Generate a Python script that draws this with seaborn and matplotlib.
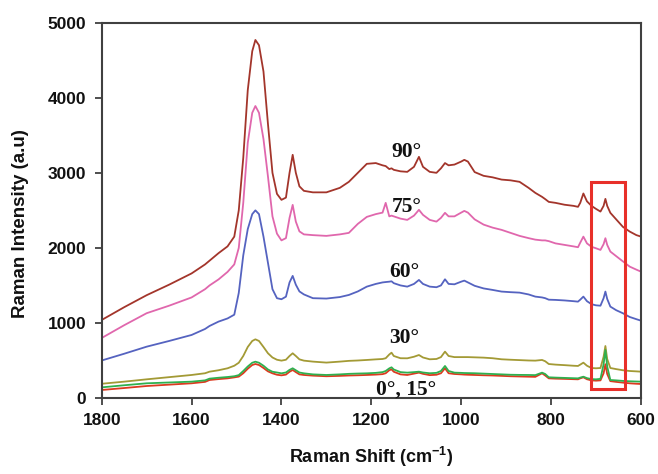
import matplotlib
matplotlib.use("Agg")
import matplotlib.pyplot as plt
from matplotlib.patches import Rectangle
import seaborn as sns
import pandas as pd

# ---- data ----
X_SHIFT = [1800, 1750, 1700, 1650, 1600, 1570, 1560, 1540, 1520, 1505, 1495, 1485, 1475,
           1465, 1458, 1450, 1440, 1430, 1420, 1410, 1400, 1390, 1382, 1375, 1368, 1360,
           1350, 1330, 1300, 1270, 1250, 1230, 1210, 1190, 1175, 1168, 1160, 1155, 1150,
           1135, 1120, 1105, 1094, 1085, 1070, 1055, 1045, 1036, 1028, 1015, 1000, 993,
           985, 970, 950, 930, 910, 890, 870, 850, 835, 820, 813, 805, 790, 770, 750, 740,
           735, 728, 720, 710, 700, 690, 683, 679, 675, 668, 655, 640, 625, 610, 600]

Y_90 = [1040, 1210, 1370, 1510, 1660, 1780, 1830, 1930, 2020, 2150, 2500, 3200, 4100,
        4620, 4770, 4700, 4350, 3650, 3000, 2720, 2640, 2670, 3000, 3240, 3000, 2820,
        2760, 2740, 2740, 2800, 2880, 3000, 3120, 3130, 3100, 3090, 3050, 3060, 3040,
        3020, 3013, 3080, 3213, 3080, 3013, 3000, 3060, 3130, 3100, 3110, 3150, 3173,
        3150, 3010, 2960, 2940, 2910, 2900, 2880, 2800, 2733, 2680, 2650, 2613, 2600, 2575, 2560, 2547,
        2600, 2725, 2620, 2560, 2520, 2484, 2560, 2653, 2560, 2467, 2380, 2280, 2218, 2170, 2151]

Y_75 = [800, 970, 1130, 1230, 1340, 1450, 1500, 1580, 1680, 1780, 2000, 2600, 3400,
        3800, 3890, 3800, 3450, 2950, 2420, 2190, 2100, 2130, 2400, 2573, 2350, 2220,
        2180, 2170, 2160, 2180, 2200, 2320, 2413, 2450, 2470, 2600, 2420, 2430, 2420,
        2390, 2373, 2430, 2507, 2440, 2373, 2350, 2400, 2467, 2420, 2420, 2470, 2493,
        2470, 2380, 2310, 2270, 2240, 2200, 2160, 2130, 2110, 2100, 2100, 2090, 2060, 2040, 2020, 2009,
        2070, 2150, 2060, 2015, 1995, 1973, 2050, 2129, 2040, 1951, 1890, 1820, 1751, 1710, 1684]

Y_60 = [500, 590, 684, 760, 840, 920, 960, 1018, 1060, 1110, 1400, 1900, 2250,
        2450, 2500, 2450, 2150, 1800, 1450, 1330, 1316, 1350, 1540, 1627, 1510, 1420,
        1380, 1330, 1325, 1345, 1373, 1420, 1484, 1520, 1540, 1545, 1550, 1555, 1530,
        1500, 1484, 1520, 1573, 1520, 1484, 1476, 1500, 1582, 1520, 1515, 1550, 1564,
        1540, 1495, 1460, 1440, 1418, 1410, 1404, 1380, 1351, 1340, 1330, 1310, 1307, 1300, 1290, 1284,
        1310, 1351, 1290, 1250, 1235, 1230, 1330, 1418, 1320, 1218, 1170, 1129, 1080, 1050, 1031]

Y_30 = [190, 218, 249, 278, 307, 330, 351, 370, 396, 430, 470, 560, 680,
        760, 782, 760, 680, 596, 540, 510, 498, 510, 560, 596, 560, 515,
        498, 485, 472, 485, 495, 500, 507, 515, 520, 530, 580, 604, 560,
        530, 529, 550, 573, 540, 516, 520, 545, 618, 560, 545, 545, 545,
        545, 542, 538, 530, 516, 510, 505, 500, 498, 507, 490, 453, 445, 438, 430, 427,
        445, 471, 430, 400, 396, 400, 550, 693, 520, 400, 385, 370, 360, 355, 351]

Y_15 = [142, 170, 196, 207, 218, 235, 258, 270, 280, 290, 305, 360, 420,
        470, 484, 470, 430, 380, 350, 340, 329, 340, 375, 396, 370, 340,
        329, 315, 307, 315, 322, 326, 329, 335, 345, 360, 395, 409, 380,
        345, 338, 345, 351, 340, 330, 335, 360, 427, 360, 338, 335, 333,
        332, 330, 325, 320, 315, 310, 308, 307, 305, 338, 320, 276, 272, 268, 264, 262,
        272, 284, 265, 252, 249, 255, 450, 640, 420, 240, 235, 228, 223, 220, 218]

Y_0 = [107, 133, 160, 178, 196, 215, 240, 252, 262, 275, 285, 330, 390,
       440, 453, 440, 400, 355, 329, 310, 302, 312, 350, 373, 345, 315,
       307, 298, 290, 295, 300, 303, 307, 312, 318, 330, 370, 382, 350,
       315, 307, 325, 338, 322, 305, 310, 330, 396, 330, 320, 315, 312,
       310, 307, 303, 300, 295, 290, 287, 284, 282, 329, 300, 262, 258, 255, 251, 249,
       262, 276, 250, 235, 231, 235, 330, 450, 320, 225, 215, 205, 196, 190, 187]

ANGLES = ["90°", "75°", "60°", "30°", "0°", "15°"]
SERIES = [Y_90, Y_75, Y_60, Y_30, Y_0, Y_15]
COLORS = ["#a3352b", "#e067ad", "#5563c0", "#a39a35", "#dc3a20", "#2fb04f"]

LABELS = ["90°", "75°", "60°", "30°", "0°, 15°"]
LABEL_X = [1122, 1122, 1126, 1126, 1122]
LABEL_Y = [3273, 2547, 1684, 796, 107]

BOX_X = [711, 635]
BOX_Y = [120, 2880]

# ---- build table ----
frames = []
for ang, ys in zip(ANGLES, SERIES):
    frames.append(pd.DataFrame({"shift": X_SHIFT, "intensity": ys, "angle": ang}))
df = pd.concat(frames, ignore_index=True)

sns.set_theme(style="white")
plt.rcParams["font.family"] = ["Liberation Sans", "DejaVu Sans"]
plt.rcParams["mathtext.fontset"] = "custom"
plt.rcParams["mathtext.bf"] = "Liberation Sans:bold"
plt.rcParams["mathtext.rm"] = "Liberation Sans:bold"
plt.rcParams["mathtext.default"] = "bf"

fig = plt.figure(figsize=(6.58, 4.74), dpi=100)
ax = fig.add_axes([0.1546, 0.1603, 0.8194, 0.7918])

sns.lineplot(data=df, x="shift", y="intensity", hue="angle", hue_order=ANGLES,
             palette=dict(zip(ANGLES, COLORS)), estimator=None, legend=False,
             linewidth=1.3, ax=ax)

ax.set_xlim(1800, 600)
ax.set_ylim(0, 5000)
ax.set_xticks([1800, 1600, 1400, 1200, 1000, 800, 600])
ax.set_yticks([0, 1000, 2000, 3000, 4000, 5000])

for lab, lx, ly in zip(LABELS, LABEL_X, LABEL_Y):
    ax.text(lx, ly, lab, ha="center", va="center", fontsize=15.5,
            fontweight="bold", family=["Liberation Serif", "DejaVu Serif"], color="#111111")

ax.add_patch(Rectangle((BOX_X[0], BOX_Y[0]), BOX_X[1] - BOX_X[0], BOX_Y[1] - BOX_Y[0],
                       fill=False, edgecolor="#e8302a", linewidth=2.2, zorder=5))

for s in ax.spines.values():
    s.set_color("#404040")
    s.set_linewidth(1.5)
    s.set_visible(True)

ax.tick_params(axis="both", which="major", direction="out", length=5, width=1.3,
               color="#404040", labelsize=12.5, pad=6, bottom=True, left=True,
               top=False, right=False)
for t in ax.get_xticklabels() + ax.get_yticklabels():
    t.set_fontweight("bold")
    t.set_color("#111111")

ax.set_xlabel("Raman Shift (cm$^{-1}$)", fontsize=13, fontweight="bold", color="#111111",
              labelpad=12)
ax.set_ylabel("Raman Intensity (a.u)", fontsize=13.5, fontweight="bold", color="#111111")
ax.yaxis.set_label_coords(-0.135, 0.4636)

fig.savefig("out.png", dpi=100, facecolor="white")
